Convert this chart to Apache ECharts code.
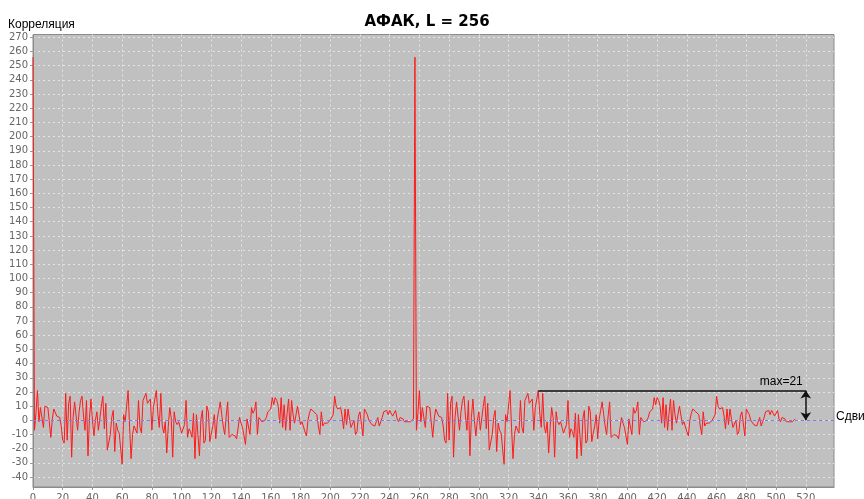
<!DOCTYPE html>
<html>
<head>
<meta charset="utf-8">
<script src="https://cdn.jsdelivr.net/npm/echarts@6/dist/echarts.min.js"></script>
<style>
html,body{margin:0;padding:0;background:#fff;}
#c{width:864px;height:499px;}
</style>
</head>
<body>
<div id="c"></div>
<script>
// Aperiodic autocorrelation R(k), k = 0..256 (the chart draws this block twice: shifts 0..256 and 257..513)
const acf = [
256,-7,5,21,-1,9,8,-5,10,10,9,10,-12,1,8,9,3,3,2,-4,
-14,-16,19,-14,12,17,-26,2,13,3,-7,6,14,17,3,-7,14,-25,2,15,
0,-11,0,6,-7,-8,10,17,-6,12,-21,-20,-10,2,7,-22,-2,-7,-9,-10,
-31,4,-1,-2,21,-5,-27,-10,-4,-3,-9,14,-5,-9,14,13,19,12,11,15,
-7,9,15,21,5,-5,19,-4,-9,-1,-23,-5,9,2,-26,6,-1,-3,-1,0,
-9,-10,-3,14,-12,-6,-8,-12,5,-27,4,3,-25,1,7,-16,-14,10,6,-15,
-9,-4,4,-13,1,7,13,4,-4,-10,3,13,-12,-13,-10,-9,-11,-13,-14,2,
-2,-5,-4,-17,1,0,-10,9,5,7,13,-10,2,1,-1,-1,0,2,6,5,
8,16,11,16,14,10,-2,16,-5,11,-7,5,15,-7,14,4,-2,-1,10,11,
-3,-1,-2,-8,-11,0,5,8,9,6,5,4,-4,-10,6,-4,-2,-3,-2,-1,
0,0,4,17,10,8,7,9,3,-6,8,-3,8,1,-5,-6,0,-10,-8,3,
6,7,-11,8,6,4,0,1,-3,-2,-4,-1,2,-4,-1,2,6,6,7,4,
7,6,3,5,7,1,-1,2,1,1,-1,0,-1,-1,-1,0,1
];
const copies = 2;                 // the block is drawn twice
const xTicks = [0, 520, 20];      // first, last, step of x labels
const yTicks = [-40, 270, 10];    // first, last, step of y labels
const maxLevel = 21;              // annotated maximum side lobe
const maxFrom = 340, maxTo = 520; // shifts spanned by the max marker
const titleText = 'АФАК, L = 256';
const yName = 'Корреляция';
const xName = 'Сдвиг';

const period = acf.length;
const seriesData = [];
for (let c = 0; c < copies; c++) {
  acf.forEach((v, k) => seriesData.push([c * period + k, v]));
}
const yVals = [];
for (let v = yTicks[0]; v <= yTicks[1]; v += yTicks[2]) yVals.push(v);
const xVals = [];
for (let v = xTicks[0]; v <= xTicks[1]; v += xTicks[2]) xVals.push(v);

const txtFont = 'Liberation Sans';
const chart = echarts.init(document.getElementById('c'), null, {renderer: 'canvas'});
chart.setOption({
  animation: false,
  backgroundColor: '#ffffff',
  title: {
    text: titleText, left: 422, top: 10, textAlign: 'center',
    textStyle: {fontFamily: 'DejaVu Sans', fontSize: 15, fontWeight: 'bold', color: '#000'}
  },
  graphic: [{
    type: 'text', left: 8, top: 19,
    style: {text: yName, fontFamily: txtFont, fontSize: 12, fill: '#000'}
  }],
  grid: {
    left: 33, right: 30, top: 34.5, bottom: 12,
    outerBoundsMode: 'none', containLabel: false,
    show: true, backgroundColor: '#c0c0c0', borderColor: '#8c8c8c', borderWidth: 1
  },
  xAxis: {
    type: 'value', min: 0, max: 539,
    axisLine: {show: true, onZero: false, lineStyle: {color: '#8c8c8c'}},
    axisTick: {show: true, length: 3, lineStyle: {color: '#999'}, customValues: xVals},
    axisLabel: {color: '#666', fontFamily: 'DejaVu Sans', fontSize: 10, margin: 6, customValues: xVals},
    splitLine: {show: true, lineStyle: {color: '#e4e4e4', type: [2, 3], width: 1}}
  },
  yAxis: {
    type: 'value', min: -47, max: 272,
    axisLine: {show: true, lineStyle: {color: '#8c8c8c'}},
    axisTick: {show: true, length: 3, lineStyle: {color: '#999'}, customValues: yVals},
    axisLabel: {color: '#666', fontFamily: 'DejaVu Sans', fontSize: 10, margin: 5, customValues: yVals},
    splitLine: {show: true, lineStyle: {color: '#e4e4e4', type: [2, 3], width: 1}}
  },
  series: [{
    type: 'line',
    data: seriesData,
    showSymbol: false,
    lineStyle: {color: '#ff1a1a', width: 1},
    z: 3,
    markLine: {
      silent: true,
      animation: false,
      symbol: ['none', 'none'],
      data: [
        {
          yAxis: 0,
          lineStyle: {color: '#7b7bf0', type: [3, 3], width: 1},
          label: {show: true, position: 'end', formatter: xName, color: '#000',
                  fontFamily: txtFont, fontSize: 12, distance: 2, offset: [0, -4]}
        },
        [
          {coord: [maxFrom, maxLevel],
           lineStyle: {color: '#111', type: 'solid', width: 1.5},
           label: {show: true, position: 'insideEndTop', formatter: 'max=' + maxLevel,
                   color: '#000', fontFamily: txtFont, fontSize: 12, distance: 3}},
          {coord: [maxTo, maxLevel]}
        ],
        [
          {coord: [maxTo, maxLevel], symbol: 'arrow', symbolSize: 8,
           lineStyle: {color: '#111', type: 'solid', width: 1.5},
           label: {show: false}},
          {coord: [maxTo, 0], symbol: 'arrow', symbolSize: 8}
        ]
      ]
    }
  }]
});
</script>
</body>
</html>
